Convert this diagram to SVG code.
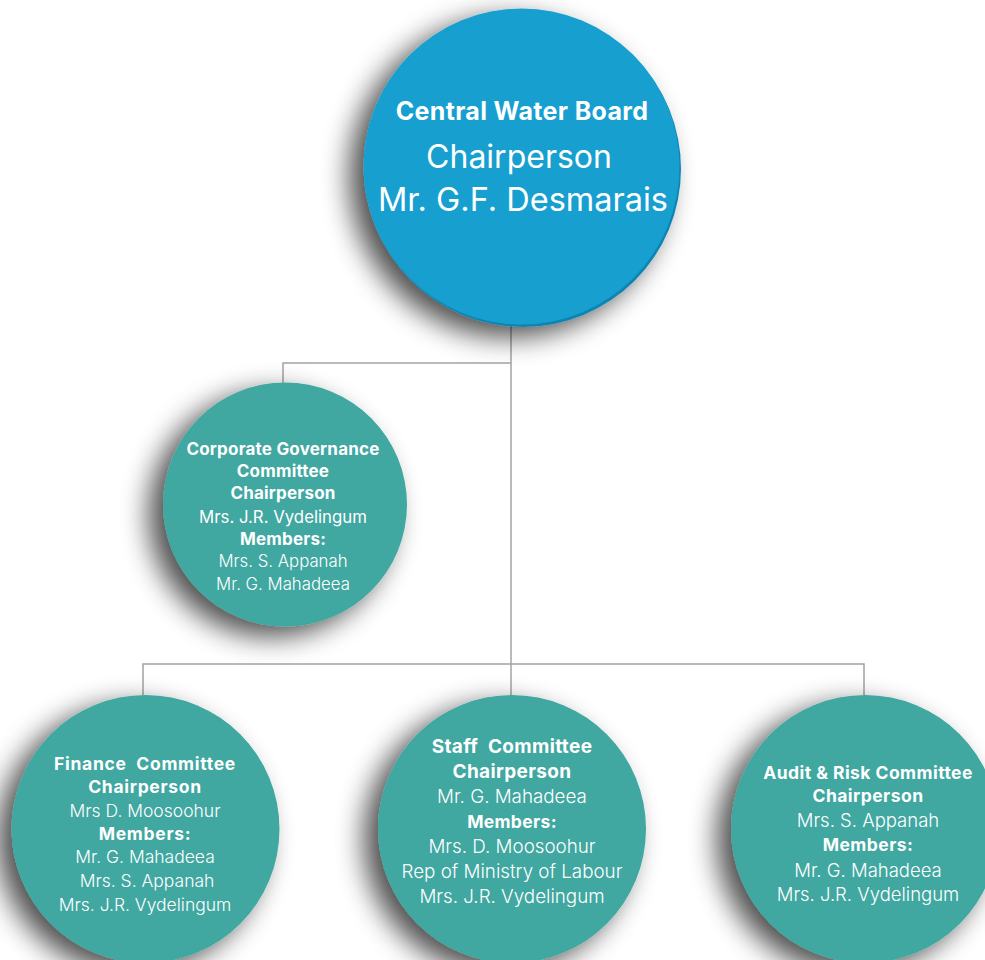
<svg xmlns="http://www.w3.org/2000/svg" width="985" height="960" viewBox="0 0 985 960">
<style>
.conn{stroke:#a3a3a3;stroke-width:1.5;fill:none}
.teal{fill:#3fa7a1}
.t{font-family:Inter,Roboto,"Liberation Sans",sans-serif;fill:#ffffff;text-anchor:middle}
.b{font-weight:700}
.l{font-weight:300}
</style>
<defs>
<filter id="sh" x="-40%" y="-40%" width="180%" height="180%">
<feGaussianBlur in="SourceAlpha" stdDeviation="14"/>
<feOffset dx="-14" dy="10" result="o"/>
<feComponentTransfer><feFuncA type="linear" slope="0.7"/></feComponentTransfer>
<feMerge><feMergeNode/><feMergeNode in="SourceGraphic"/></feMerge>
</filter>
</defs>
<rect width="985" height="960" fill="#ffffff"/>
<g id="connectors">
<path class="conn" d="M511 325V695"/>
<path class="conn" d="M511 363H283V383"/>
<path class="conn" d="M143 695V664H864V695"/>
</g>
<g id="central-water-board">
<g filter="url(#sh)">
<circle cx="523" cy="169" r="158" fill="#0f85b3"/>
<circle cx="521.5" cy="166.5" r="158" fill="#179fcf"/>
</g>
<text class="t b" x="522" y="120" font-size="25" letter-spacing="0.35">Central Water Board</text>
<text class="t" x="519" y="168" font-size="32">Chairperson</text>
<text class="t" x="523" y="211" font-size="32.5">Mr. G.F. Desmarais</text>
</g>
<g id="corporate-governance">
<circle class="teal" cx="285" cy="504.5" r="122" filter="url(#sh)"/>
<text class="t b" x="283" y="455" font-size="17" letter-spacing="0.2">Corporate Governance</text>
<text class="t b" x="283" y="477" font-size="17" letter-spacing="0.2">Committee</text>
<text class="t b" x="283" y="499" font-size="17" letter-spacing="0.2">Chairperson</text>
<text class="t" x="283" y="523" font-size="16.8">Mrs. J.R. Vydelingum</text>
<text class="t b" x="283" y="545" font-size="17" letter-spacing="0.2">Members:</text>
<text class="t l" x="283" y="567" font-size="16.8">Mrs. S. Appanah</text>
<text class="t l" x="283" y="590" font-size="16.8">Mr. G. Mahadeea</text>
</g>
<g id="finance-committee">
<circle class="teal" cx="145.5" cy="829" r="134" filter="url(#sh)"/>
<text class="t b" x="145" y="770" font-size="17.5" letter-spacing="0.7" xml:space="preserve">Finance  Committee</text>
<text class="t b" x="145" y="793" font-size="17.5" letter-spacing="0.7">Chairperson</text>
<text class="t l" x="145" y="817" font-size="17.5">Mrs D. Moosoohur</text>
<text class="t b" x="145" y="840" font-size="17.5" letter-spacing="0.7">Members:</text>
<text class="t l" x="145" y="863" font-size="17.5">Mr. G. Mahadeea</text>
<text class="t l" x="147" y="887" font-size="17.5">Mrs. S. Appanah</text>
<text class="t l" x="145" y="911" font-size="17.5">Mrs. J.R. Vydelingum</text>
</g>
<g id="staff-committee">
<circle class="teal" cx="512" cy="829" r="134" filter="url(#sh)"/>
<text class="t b" x="512" y="753" font-size="19" letter-spacing="0.35" xml:space="preserve">Staff  Committee</text>
<text class="t b" x="512" y="778" font-size="19" letter-spacing="0.35">Chairperson</text>
<text class="t l" x="512" y="803" font-size="18.8">Mr. G. Mahadeea</text>
<text class="t b" x="512" y="828" font-size="17.5" letter-spacing="0.35">Members:</text>
<text class="t l" x="512" y="853" font-size="18.8">Mrs. D. Moosoohur</text>
<text class="t l" x="512" y="878" font-size="18.8">Rep of Ministry of Labour</text>
<text class="t l" x="512" y="903" font-size="18.8">Mrs. J.R. Vydelingum</text>
</g>
<g id="audit-risk-committee">
<circle class="teal" cx="865" cy="829" r="134" filter="url(#sh)"/>
<text class="t b" x="868" y="779" font-size="17.5" letter-spacing="0.45">Audit &amp; Risk Committee</text>
<text class="t b" x="868" y="802" font-size="17.5" letter-spacing="0.45">Chairperson</text>
<text class="t l" x="868" y="827" font-size="18.5">Mrs. S. Appanah</text>
<text class="t b" x="868" y="851" font-size="17.5" letter-spacing="0.45">Members:</text>
<text class="t l" x="868" y="877" font-size="18.5">Mr. G. Mahadeea</text>
<text class="t l" x="868" y="901" font-size="18.5">Mrs. J.R. Vydelingum</text>
</g>
</svg>
